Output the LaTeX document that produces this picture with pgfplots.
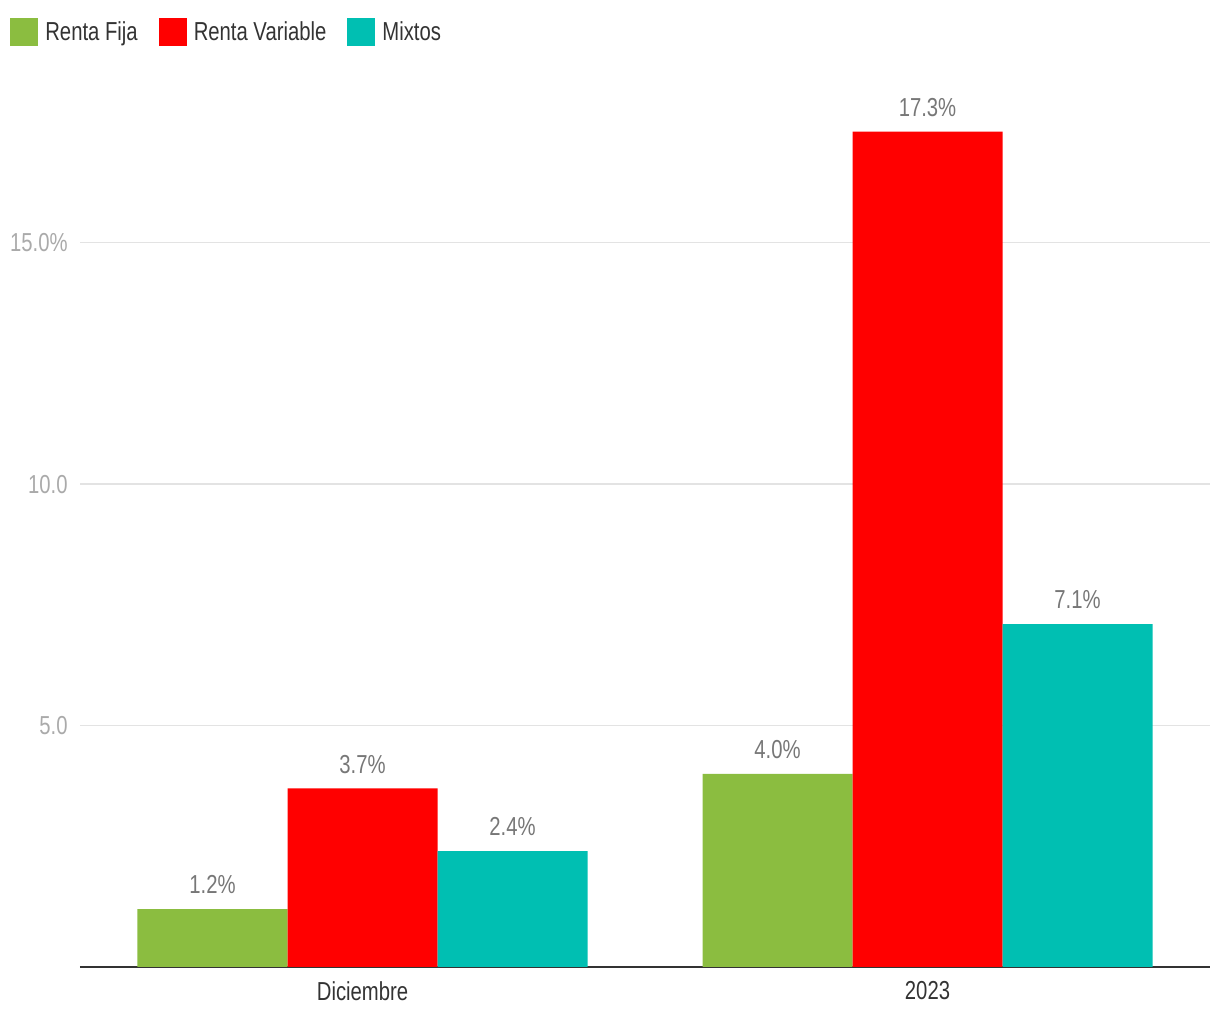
\documentclass[border=0pt]{standalone}
\usepackage{fontspec}
\setmainfont[FakeStretch=0.78]{Liberation Sans}
\usepackage{pgfplots}
\pgfplotsset{compat=1.18}

\definecolor{fija}{HTML}{8BBD40}
\definecolor{variable}{HTML}{FF0000}
\definecolor{mixtos}{HTML}{00BFB2}
\definecolor{gridc}{HTML}{E3E3E3}
\definecolor{ticktext}{HTML}{AAAAAA}
\definecolor{valtext}{HTML}{777777}
\definecolor{dark}{HTML}{333333}

\begin{document}
\begin{tikzpicture}
\begin{axis}[
    scale only axis,
    width=565pt, height=449pt,
    ybar=0pt,
    bar width=75pt,
    xmin=-0.5, xmax=1.5,
    ymin=0, ymax=18.6,
    xtick={0,1},
    xticklabels={Diciembre,2023},
    ytick={5,10,15},
    yticklabels={5.0,10.0,15.0\%},
    major tick length=0pt,
    axis lines*=left,
    y axis line style={draw=none},
    x axis line style={draw=dark, line width=1pt},
    ymajorgrids,
    grid style={gridc, line width=0.7pt},
    font=\fontsize{13}{15}\selectfont,
    yticklabel style={color=ticktext, anchor=east, inner sep=0pt, xshift=-6pt},
    xticklabel style={color=dark, inner sep=0pt, yshift=-7pt},
    /pgf/number format/assume math mode=true,
    nodes near coords={\pgfmathprintnumber[fixed,fixed zerofill,precision=1]{\pgfplotspointmeta}\%},
    every node near coord/.append style={color=valtext, yshift=4pt},
    legend columns=3,
    legend style={draw=none, fill=none, inner sep=0pt,
        at={(-0.062,1.0407)}, anchor=west,
        text=dark,
        /tikz/every odd column/.append style={column sep=1.5pt},
        /tikz/every even column/.append style={column sep=8.5pt}},
    legend image code/.code={\fill[#1] (0pt,-7pt) rectangle (14pt,7pt);},
    legend cell align=left,
]
\addplot[draw=none, fill=fija] coordinates {(0,1.2) (1,4.0)};
\addplot[draw=none, fill=variable] coordinates {(0,3.7) (1,17.3)};
\addplot[draw=none, fill=mixtos] coordinates {(0,2.4) (1,7.1)};
\legend{Renta Fija, Renta Variable, Mixtos}
\end{axis}
\path[use as bounding box] (-40pt,-26.5pt) rectangle (570pt,483.5pt);
\end{tikzpicture}
\end{document}
